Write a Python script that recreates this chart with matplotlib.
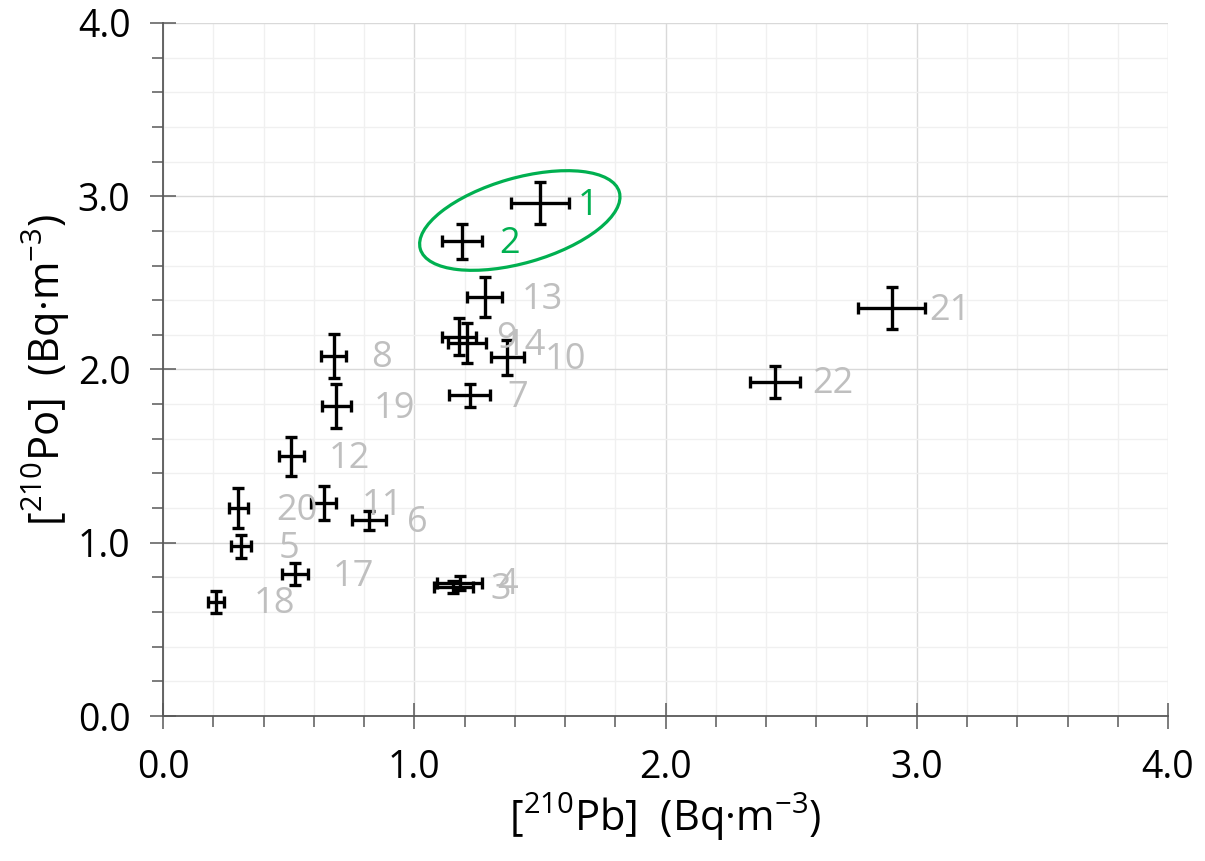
import numpy as np
import matplotlib.pyplot as plt
from matplotlib.patches import Ellipse
from matplotlib.transforms import ScaledTranslation
from matplotlib.ticker import MultipleLocator, FormatStrFormatter

plt.rcParams['font.family'] = ['Open Sans', 'DejaVu Sans']
plt.rcParams['mathtext.default'] = 'regular'

# sample numbers and measured activities
ids = ['1', '2', '3', '4', '5', '6', '7', '8', '9', '10',
       '11', '12', '13', '14', '17', '18', '19', '20', '21', '22']
pb = [1.50, 1.19, 1.155, 1.18, 0.31, 0.82, 1.22, 0.68, 1.178, 1.37,
      0.64, 0.51, 1.28, 1.21, 0.525, 0.21, 0.69, 0.30, 2.90, 2.435]
pb_err = [0.115, 0.08, 0.078, 0.088, 0.04, 0.067, 0.08, 0.05, 0.066, 0.065,
          0.05, 0.05, 0.07, 0.075, 0.05, 0.032, 0.057, 0.038, 0.133, 0.10]
po = [2.96, 2.74, 0.745, 0.77, 0.98, 1.13, 1.85, 2.08, 2.19, 2.07,
      1.23, 1.50, 2.42, 2.153, 0.82, 0.66, 1.79, 1.20, 2.355, 1.93]
po_err = [0.12, 0.10, 0.035, 0.04, 0.066, 0.055, 0.065, 0.127, 0.107, 0.10,
          0.10, 0.113, 0.115, 0.115, 0.063, 0.063, 0.125, 0.115, 0.12, 0.093]
highlight = ['1', '2']

green = '#00B050'
grey_lab = '#BFBFBF'
axis_col = '#595959'

fig = plt.figure(figsize=(12.05, 8.61), dpi=100)
ax = fig.add_axes([0.1353, 0.1684, 0.9693 - 0.1353, 0.9733 - 0.1684])

ax.errorbar(pb, po, xerr=pb_err, yerr=po_err, fmt='none', ecolor='black',
            elinewidth=2.4, capsize=4.5, capthick=2.4, zorder=3)

for i, lab in enumerate(ids):
    col = green if lab in highlight else grey_lab
    ax.annotate(lab, (pb[i], po[i]), xytext=(27, -2), textcoords='offset points',
                ha='left', va='center', fontsize=26, color=col, zorder=4)

# green ellipse round samples 1 and 2 (drawn in inches, centred in data coords)
ell = Ellipse((0, 0), 2.07, 0.85, angle=16, fill=False, edgecolor=green, linewidth=2.3,
              transform=fig.dpi_scale_trans + ScaledTranslation(1.42, 2.86, ax.transData),
              zorder=5)
ax.add_patch(ell)

ax.set_xlim(0, 4)
ax.set_ylim(0, 4)
ax.xaxis.set_major_locator(MultipleLocator(1.0))
ax.yaxis.set_major_locator(MultipleLocator(1.0))
ax.xaxis.set_minor_locator(MultipleLocator(0.2))
ax.yaxis.set_minor_locator(MultipleLocator(0.2))
ax.xaxis.set_major_formatter(FormatStrFormatter('%.1f'))
ax.yaxis.set_major_formatter(FormatStrFormatter('%.1f'))

ax.grid(which='major', color='#D9D9D9', linewidth=1.0, zorder=0)
ax.grid(which='minor', color='#F0F0F0', linewidth=1.0, zorder=0)
ax.set_axisbelow(True)

for s in ['top', 'right']:
    ax.spines[s].set_visible(False)
for s in ['left', 'bottom']:
    ax.spines[s].set_color(axis_col)
    ax.spines[s].set_linewidth(1.3)

ax.tick_params(which='major', direction='inout', length=19, width=1.1, color=axis_col,
               labelsize=27, pad=14)
ax.tick_params(which='minor', direction='out', length=8, width=1.1, color=axis_col)

ax.set_xlabel(r'[$^{210}$Pb]  (Bq·m$^{-3}$)', fontsize=30, labelpad=4)
ax.set_ylabel(r'[$^{210}$Po]  (Bq·m$^{-3}$)', fontsize=30, labelpad=4)

plt.savefig('out.png', dpi=100)
